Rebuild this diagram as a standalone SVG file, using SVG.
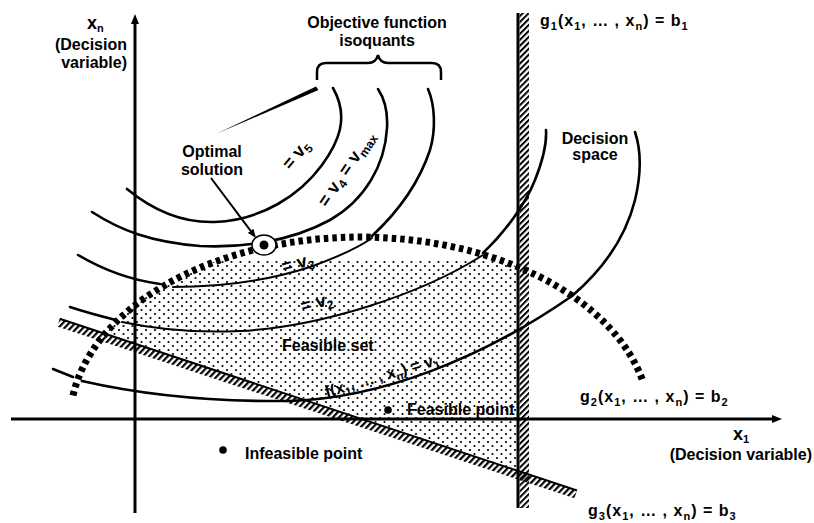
<svg xmlns="http://www.w3.org/2000/svg" width="814" height="523" viewBox="0 0 814 523">
<style>
.t{font-family:"Liberation Sans",Arial,sans-serif;font-weight:bold;font-size:16px;fill:#000}
.s{font-size:11px}
.big{font-size:18px}
.rl{font-size:18px}
.rs{font-size:12px}
.g{letter-spacing:1px}
.iso{fill:none;stroke:#000;stroke-width:2.6;stroke-linecap:round}
.iso2{fill:none;stroke:#000;stroke-width:2;stroke-linecap:round}
.axis{fill:none;stroke:#000;stroke-width:3}
.bound{fill:none;stroke:#000;stroke-width:7;stroke-dasharray:4.5 4}
</style>
<defs>
<pattern id="dots" width="9" height="8" patternUnits="userSpaceOnUse">
<circle cx="2" cy="2" r="1.1" fill="#000"/><circle cx="6.5" cy="6" r="1.1" fill="#000"/>
</pattern>
<pattern id="hatch" width="4.2" height="4.2" patternUnits="userSpaceOnUse" patternTransform="rotate(45)">
<rect width="2" height="4.2" fill="#000"/>
</pattern>
<pattern id="hatch3" width="4.5" height="9" patternUnits="userSpaceOnUse" patternTransform="rotate(25)">
<rect width="2.2" height="9" fill="#000"/>
</pattern>
<clipPath id="feasClip"><path d="M105.6,333 A290,185 0 0 1 518,266.9 L518,470 Z"/></clipPath>
<marker id="ah" viewBox="0 0 10 8" refX="5" refY="4" markerWidth="10" markerHeight="8" markerUnits="userSpaceOnUse" orient="auto"><path d="M0,0 L10,4 L0,8 z" fill="#000"/></marker>
<marker id="ah2" viewBox="0 0 9 7" refX="4.5" refY="3.5" markerWidth="9" markerHeight="7" markerUnits="userSpaceOnUse" orient="auto"><path d="M0,0 L9,3.5 L0,7 z" fill="#000"/></marker>
</defs>
<rect width="814" height="523" fill="#fff"/>

<g id="feasible-set">
<rect x="100" y="260" width="420" height="215" fill="url(#dots)" clip-path="url(#feasClip)"/>
</g>

<g id="isoquants">
<polygon points="217,133.5 316,86.5 318.5,90" fill="#000"/>
<path class="iso" d="M127,189 C155,212 185,223 215,222 C262,220 300,195 322,165 C338,143 350,118 333,88"/>
<path class="iso" d="M92,212 C120,230 150,242 200,246 C240,248 290,242 330,220 C365,200 385,165 387,128 C388,110 384,98 378,89"/>
<path class="iso" d="M78,255 C100,268 130,280 160,284"/>
<path class="iso2" d="M173,287 C220,287 270,280 310,267 C335,258 355,250 372,238"/>
<path class="iso" d="M372,236 C400,210 420,180 430,150 C436,130 435,105 428,89"/>
<path class="iso" d="M70,307 C85,312 100,316 116,320"/>
<path class="iso2" d="M122,322 C160,330 200,333 240,331 C320,327 420,295 483,255"/>
<path class="iso" d="M483,253 C505,232 525,205 535,180 C543,160 547,145 546,130"/>
<path class="iso" d="M53,369 L73,377"/>
<path class="iso" d="M82,381 C130,392 200,402 290,401 C380,398 480,360 572,296"/>
<path class="iso" d="M572,296 C600,272 625,240 635,200 C641,175 641,150 635,132"/>
</g>

<g id="g2-boundary">
<path class="bound" d="M73,395.5 A290,185 0 0 1 643,381.7"/>
</g>

<g id="g3-constraint" transform="translate(60,318) rotate(18.36)">
<rect x="0" y="1" width="545" height="8" fill="url(#hatch3)"/>
<line x1="0" y1="0.8" x2="545" y2="0.8" stroke="#000" stroke-width="2"/>
</g>

<g id="g1-constraint">
<rect x="519.5" y="13" width="9.5" height="495" fill="url(#hatch)"/>
<line x1="518" y1="13" x2="518" y2="508" stroke="#000" stroke-width="3"/>
</g>

<g id="connectors">
<line class="axis" x1="135" y1="513" x2="135" y2="19" marker-end="url(#ah)"/>
<line class="axis" x1="11" y1="419" x2="777" y2="419" marker-end="url(#ah)"/>
<line x1="211" y1="178" x2="253.3" y2="234.4" stroke="#000" stroke-width="2" marker-end="url(#ah2)"/>
</g>

<g id="brace">
<path d="M317,80 L317,72 Q317,63 326,63 L368,63 Q376,63 378,55 Q380,63 388,63 L432,63 Q441,63 441,72 L441,80" fill="none" stroke="#000" stroke-width="2.5"/>
</g>

<g id="optimal-point">
<ellipse cx="264" cy="245" rx="12" ry="10" fill="#fff" stroke="#000" stroke-width="1.5"/>
<circle cx="264" cy="245" r="4.5" fill="#000"/>
</g>

<g id="feasible-point"><circle cx="388" cy="410" r="3.8" fill="#000"/>
<text class="t" x="407" y="415">Feasible point</text></g>
<g id="infeasible-point"><circle cx="223" cy="450" r="3.8" fill="#000"/>
<text class="t" x="245" y="459">Infeasible point</text></g>

<g id="labels">
<text class="t big" x="87" y="29">x<tspan class="s" dy="3">n</tspan></text>
<text class="t" x="127" y="50" text-anchor="end">(Decision</text>
<text class="t" x="127" y="68" text-anchor="end">variable)</text>
<text class="t big" x="733" y="440">x<tspan class="s" dy="3">1</tspan></text>
<text class="t" x="812" y="460" text-anchor="end">(Decision variable)</text>
<text class="t" x="377" y="28" text-anchor="middle">Objective function</text>
<text class="t" x="377" y="46" text-anchor="middle">isoquants</text>
<text class="t" x="212" y="157" text-anchor="middle">Optimal</text>
<text class="t" x="212" y="175" text-anchor="middle">solution</text>
<text class="t" x="595" y="144" text-anchor="middle">Decision</text>
<text class="t" x="595" y="160" text-anchor="middle">space</text>
<text class="t" x="282" y="351">Feasible set</text>
<text class="t g" x="540" y="26">g<tspan class="s" dy="4">1</tspan><tspan dy="-4">(x</tspan><tspan class="s" dy="4">1</tspan><tspan dy="-4">, … , x</tspan><tspan class="s" dy="4">n</tspan><tspan dy="-4">) = b</tspan><tspan class="s" dy="4">1</tspan></text>
<text class="t g" x="580" y="402">g<tspan class="s" dy="4">2</tspan><tspan dy="-4">(x</tspan><tspan class="s" dy="4">1</tspan><tspan dy="-4">, … , x</tspan><tspan class="s" dy="4">n</tspan><tspan dy="-4">) = b</tspan><tspan class="s" dy="4">2</tspan></text>
<text class="t g" x="588" y="516">g<tspan class="s" dy="4">3</tspan><tspan dy="-4">(x</tspan><tspan class="s" dy="4">1</tspan><tspan dy="-4">, … , x</tspan><tspan class="s" dy="4">n</tspan><tspan dy="-4">) = b</tspan><tspan class="s" dy="4">3</tspan></text>
<text class="t rl" transform="translate(300.5,158.5) rotate(-50)" text-anchor="middle">= v<tspan class="rs" dy="4">5</tspan></text>
<text class="t rl" transform="translate(351,172) rotate(-56)" text-anchor="middle">= v<tspan class="rs" dy="4">4</tspan><tspan dy="-4"> = v</tspan><tspan class="rs" dy="4">max</tspan></text>
<text class="t rl" transform="translate(299,268.5) rotate(-15)" text-anchor="middle">= v<tspan class="rs" dy="4">3</tspan></text>
<text class="t rl" transform="translate(318,308) rotate(-15)" text-anchor="middle">= v<tspan class="rs" dy="4">2</tspan></text>
<text class="t" transform="translate(383.4,380.8) rotate(-16.3)" text-anchor="middle" font-size="16.5">f(x<tspan class="s" dy="4">1</tspan><tspan dy="-4">, … , x</tspan><tspan class="s" dy="4">n</tspan><tspan dy="-4">) = v</tspan><tspan class="s" dy="4">1</tspan></text>
</g>
</svg>
